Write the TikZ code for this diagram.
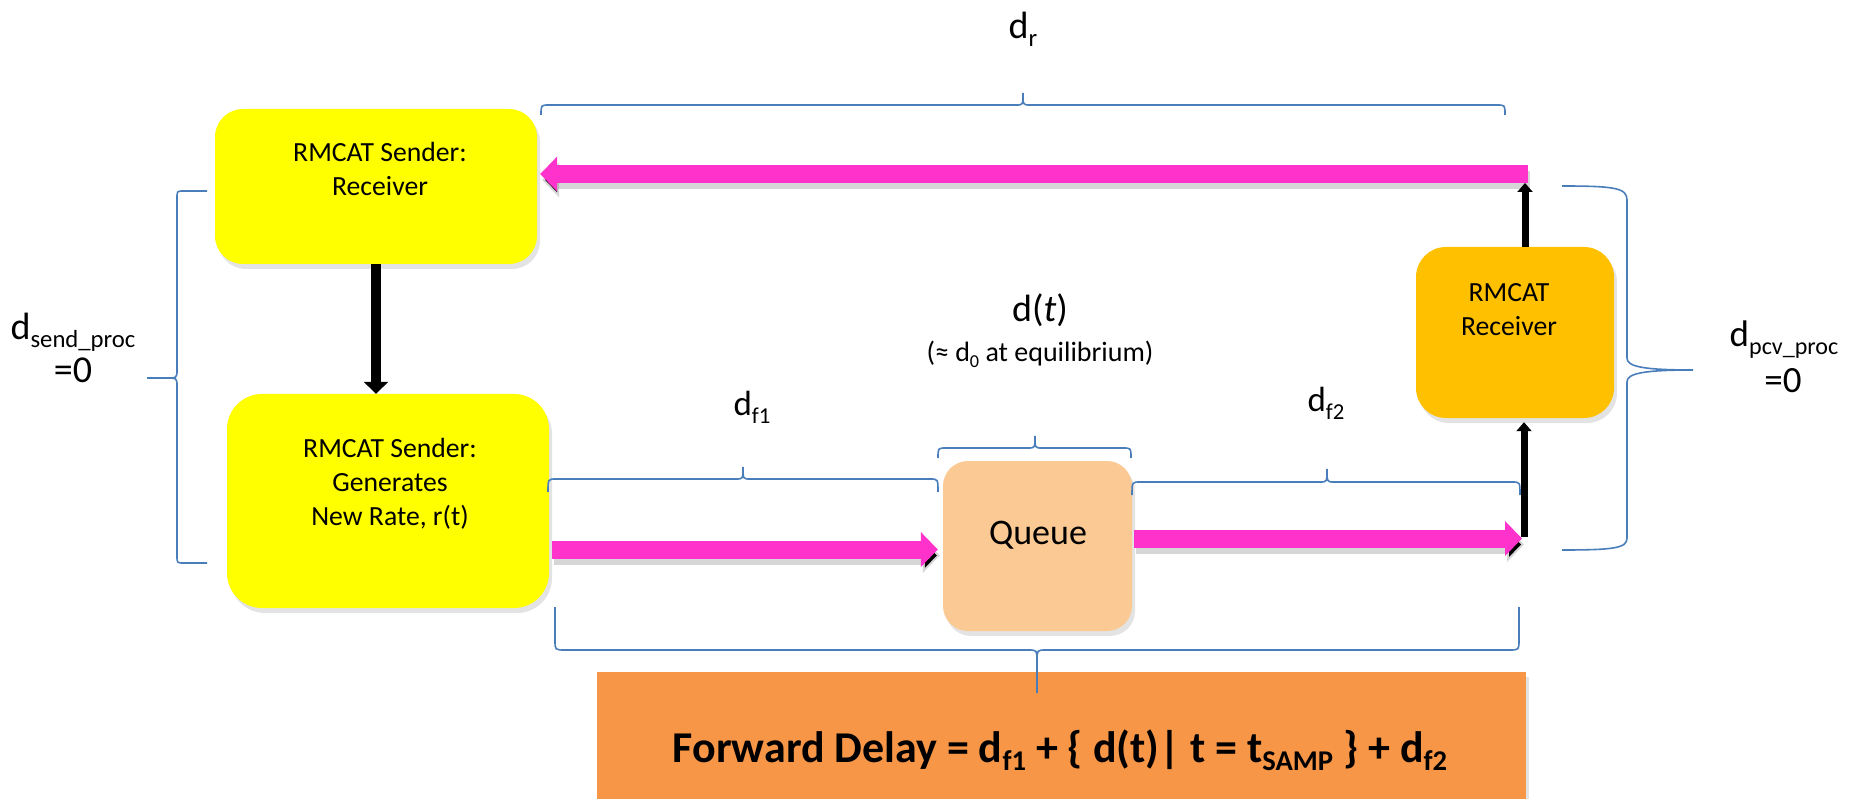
\documentclass[tikz,border=0pt]{standalone}
\usepackage{fontspec}
\setmainfont{Carlito}
\usepackage{graphicx}
\usetikzlibrary{arrows.meta,calc,shadows}
\definecolor{pinkA}{HTML}{FF33CC}
\definecolor{yellowA}{HTML}{FFFF00}
\definecolor{recvA}{HTML}{FFC000}
\definecolor{queueA}{HTML}{FBC994}
\definecolor{fdA}{HTML}{F79646}
\definecolor{braceA}{HTML}{4A7EBB}
\newcommand\lsub[1]{\raisebox{-0.2em}{\scalebox{0.65}{#1}}}
\begin{document}
\begin{tikzpicture}[x=1pt,y=-1pt,
  box/.style={rectangle, inner sep=0pt, drop shadow={opacity=0.22, shadow xshift=3pt, shadow yshift=-5pt}},
  brc/.style={draw=braceA, line width=1.6pt},
  pshadow/.style={draw=black, draw opacity=0.16, line width=18pt, -{Triangle[length=17pt,width=34pt]}},
  pinkarr/.style={draw=pinkA, line width=18pt, -{Triangle[length=17pt,width=34pt]}},
  blackarr/.style={draw=black, line width=7pt, -{Triangle[length=9pt,width=15pt]}},
  boxtxt/.style={font=\fontsize{27.7}{33.8}\selectfont, align=center, inner sep=0pt},
  lbl/.style={font=\fontsize{35}{41}\selectfont, inner sep=0pt, anchor=base}]
\useasboundingbox (0,0) rectangle (1850,799);

% boxes
\node[box, fill=yellowA, rounded corners=28pt, minimum width=322pt, minimum height=155pt] (sr) at (376,186.5) {};
\node[box, fill=yellowA, rounded corners=35pt, minimum width=322pt, minimum height=214pt] (gen) at (388,501) {};
\node[box, fill=recvA, rounded corners=30pt, minimum width=198pt, minimum height=171pt] (recv) at (1515,332.5) {};
\node[box, fill=queueA, rounded corners=25pt, minimum width=189pt, minimum height=170pt] (q) at (1037.5,546) {};
\node[box, fill=fdA, minimum width=929pt, minimum height=127pt] (fd) at (1061.5,735.5) {};

% box texts
\node[boxtxt] (srt) at (380,169) {RMCAT Sender:\\Receiver};
\node[boxtxt] (gent) at (390,484) {RMCAT Sender:\\Generates\\New Rate, r(t)};
\node[boxtxt] (recvt) at (1509,310) {RMCAT\\Receiver};
\node[boxtxt, font=\fontsize{36}{42}\selectfont] (qt) at (1038,535) {Queue};
\node[inner sep=0pt, anchor=base, font=\fontsize{44}{50}\selectfont\bfseries] (fdt) at (1060,762)
  {Forward Delay = d\lsub{f1} + \{ d(t)| t = t\lsub{SAMP} \} + d\lsub{f2}};

% connector points
\coordinate (c2) at (1524,538.5);
\coordinate (c3) at (1525,174);

% arrow shadows
\draw[pshadow] ($(gen.east |- q.west)+(5,9.5)$) -- ($(q.west)+(-3,9.5)$);
\draw[pshadow] ($(q.east)+(4,-1.5)$) -- ($(c2)+(0,6)$);
\draw[pshadow] ($(c3)+(5,6)$) -- ($(sr.east |- c3)+(5,6)$);

% arrows
\draw[pinkarr] ($(gen.east |- q.west)+(3,3.5)$) -- ($(q.west)+(-5,3.5)$);
\draw[pinkarr] ($(q.east)+(2,-7.5)$) -- ($(c2)+(-2,0)$);
\draw[blackarr] ($(c2)+(0,-1.5)$) -- ($(c2 |- recv.south)+(0,4)$);
\draw[blackarr] (c3 |- recv.north) -- ($(c3)+(0,9)$);
\draw[pinkarr] ($(c3)+(3,0)$) -- ($(sr.east |- c3)+(3,0)$);
\draw[draw=black, line width=10pt, -{Triangle[length=12pt,width=24pt]}] (sr.south) -- (sr.south |- gen.north);

% braces
\draw[brc] (541,115) .. controls (541,105) .. (549,105) -- (1016,105) .. controls (1023,105) .. (1023,93)
  .. controls (1023,105) .. (1030,105) -- (1497,105) .. controls (1505,105) .. (1505,115);
\draw[brc] (548,492) .. controls (548,479) .. (556,479) -- (736,479) .. controls (743,479) .. (743,467)
  .. controls (743,479) .. (750,479) -- (930,479) .. controls (938,479) .. (938,492);
\draw[brc] (938,458) .. controls (938,448) .. (946,448) -- (1028,448) .. controls (1035,448) .. (1035,436)
  .. controls (1035,448) .. (1042,448) -- (1123,448) .. controls (1131,448) .. (1131,458);
\draw[brc] (1132,495) .. controls (1132,482) .. (1140,482) -- (1320,482) .. controls (1327,482) .. (1327,469)
  .. controls (1327,482) .. (1334,482) -- (1512,482) .. controls (1520,482) .. (1520,495);
\draw[brc] (555,607) -- (555,640) .. controls (555,650) .. (565,650) -- (1028,650) .. controls (1037,650) .. (1037,661) -- (1037,693)
  -- (1037,661) .. controls (1037,650) .. (1046,650) -- (1509,650) .. controls (1519,650) .. (1519,640) -- (1519,607);
\draw[brc] (207,191) -- (184,191) .. controls (177,191) .. (177,198) -- (177,370) .. controls (177,378) .. (165,378) -- (147,378)
  -- (165,378) .. controls (177,378) .. (177,386) -- (177,556) .. controls (177,563) .. (184,563) -- (207,563);
\draw[brc] (1562,186) .. controls (1615,186) and (1627,188) .. (1627,200) -- (1627,358)
  .. controls (1627,366) and (1640,370) .. (1693,370) .. controls (1640,370) and (1627,374) .. (1627,382)
  -- (1627,538) .. controls (1627,548) and (1615,550) .. (1562,550);

% labels
\node[lbl, font=\fontsize{38}{44}\selectfont] (dr) at (1023,39) {d\lsub{r}};
\node[lbl] (df1) at (752,416) {d\lsub{f1}};
\node[lbl] (df2) at (1326,412) {d\lsub{f2}};
\node[lbl, font=\fontsize{38}{44}\selectfont] (dt) at (1040,322) {d(\textit{t})};
\node[lbl, font=\fontsize{28}{34}\selectfont] (dteq) at (1040,362) {(≈ d\lsub{0} at equilibrium)};
\node[lbl, font=\fontsize{38}{44}\selectfont] (ds) at (73,340) {d\lsub{send\_proc}};
\node[lbl, font=\fontsize{38}{44}\selectfont] (ds0) at (73,383) {=0};
\node[lbl, font=\fontsize{37}{43}\selectfont] (dp) at (1784,347) {d\lsub{pcv\_proc}};
\node[lbl, font=\fontsize{37}{43}\selectfont] (dp0) at (1783,392) {=0};
\end{tikzpicture}
\end{document}
